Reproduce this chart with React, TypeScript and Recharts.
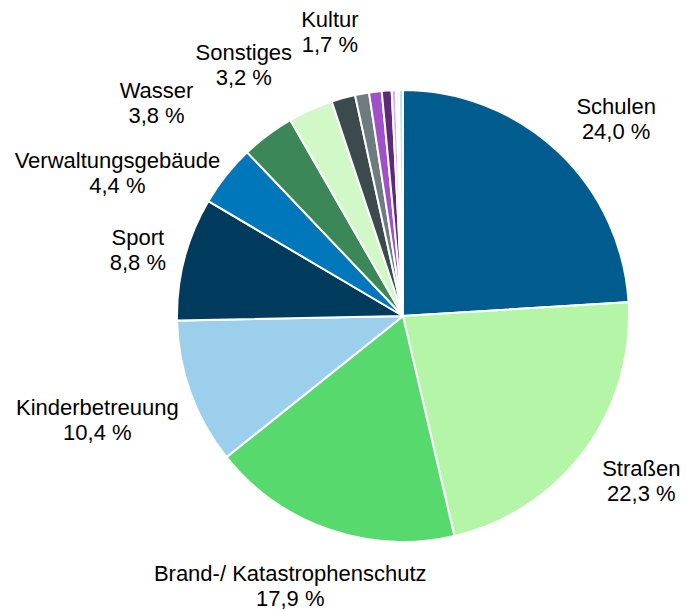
import React from "react";
import { PieChart, Pie, Cell } from "recharts";

// Anteile in Prozent, im Uhrzeigersinn ab 12 Uhr
const categories = [
  "Schulen",
  "Straßen",
  "Brand-/ Katastrophenschutz",
  "Kinderbetreuung",
  "Sport",
  "Verwaltungsgebäude",
  "Wasser",
  "Sonstiges",
  "Kultur",
  "",
  "",
  "",
  "",
  "",
  "",
];
const shares = [24.0, 22.3, 17.9, 10.4, 8.8, 4.4, 3.8, 3.2, 1.7, 1.0, 0.9, 0.7, 0.3, 0.2, 0.3];
const colors = [
  "#005b8e",
  "#b5f5a8",
  "#58d96e",
  "#9bcfec",
  "#003a5c",
  "#0077bb",
  "#3c8758",
  "#d3f8c8",
  "#3c4a4e",
  "#6e7c80",
  "#a050c8",
  "#5e2a78",
  "#d8b0ee",
  "#eef6fa",
  "#b8e4f5",
];

// Feinkorrektur der Beschriftungen (Excel schiebt sie auseinander)
const labelNudge: [number, number][] = [
  [16, 1],
  [8, 1],
  [13, 12],
  [4, 11],
  [2, 3],
  [-11, 26],
  [-76, 5],
  [-38, -2],
  [0, -21],
];

const data = categories.map((name, i) => ({ name, value: shares[i] }));

const FONT = "'Liberation Sans', Arial, sans-serif";
const FONT_SIZE = 22;
const LINE_GAP = 25;
const RADIAN = Math.PI / 180;

let ctx: CanvasRenderingContext2D | null = null;
const textWidth = (s: string) => {
  if (!ctx) {
    ctx = document.createElement("canvas").getContext("2d");
    if (ctx) ctx.font = `${FONT_SIZE}px ${FONT}`;
  }
  return ctx ? ctx.measureText(s).width : s.length * FONT_SIZE * 0.55;
};

const fmt = (v: number) => v.toFixed(1).replace(".", ",") + " %";

const renderLabel = (props: any) => {
  const { cx, cy, midAngle, outerRadius, index, name, value } = props;
  if (!name) return null;
  const dx = Math.cos(-midAngle * RADIAN);
  const dy = Math.sin(-midAngle * RADIAN);
  const r = outerRadius + 22;
  const w = Math.max(textWidth(name), textWidth(fmt(value)));
  const nudge = labelNudge[index] || [0, 0];
  const x = cx + r * dx + (dx * w) / 2 + nudge[0];
  const y = cy + r * dy + (dy * LINE_GAP * 2) / 2 + nudge[1];
  return (
    <text
      x={x}
      y={y}
      textAnchor="middle"
      dominantBaseline="central"
      fontFamily={FONT}
      fontSize={FONT_SIZE}
      fill="#000"
    >
      <tspan x={x} y={y - LINE_GAP / 2}>
        {name}
      </tspan>
      <tspan x={x} y={y + LINE_GAP / 2}>
        {fmt(value)}
      </tspan>
    </text>
  );
};

const App = () => {
  return (
    <div style={{ position: "absolute", left: 0, top: 0, background: "#fff" }}>
      <PieChart width={686} height={612} margin={{ top: 0, right: 0, bottom: 0, left: 0 }}>
        <Pie
          data={data}
          dataKey="value"
          nameKey="name"
          cx={403}
          cy={316}
          outerRadius={226}
          startAngle={90}
          endAngle={-270}
          stroke="#fff"
          strokeWidth={2}
          label={renderLabel}
          labelLine={false}
          isAnimationActive={false}
        >
          {data.map((d, i) => (
            <Cell key={i} fill={colors[i]} />
          ))}
        </Pie>
      </PieChart>
    </div>
  );
};

export default App;
